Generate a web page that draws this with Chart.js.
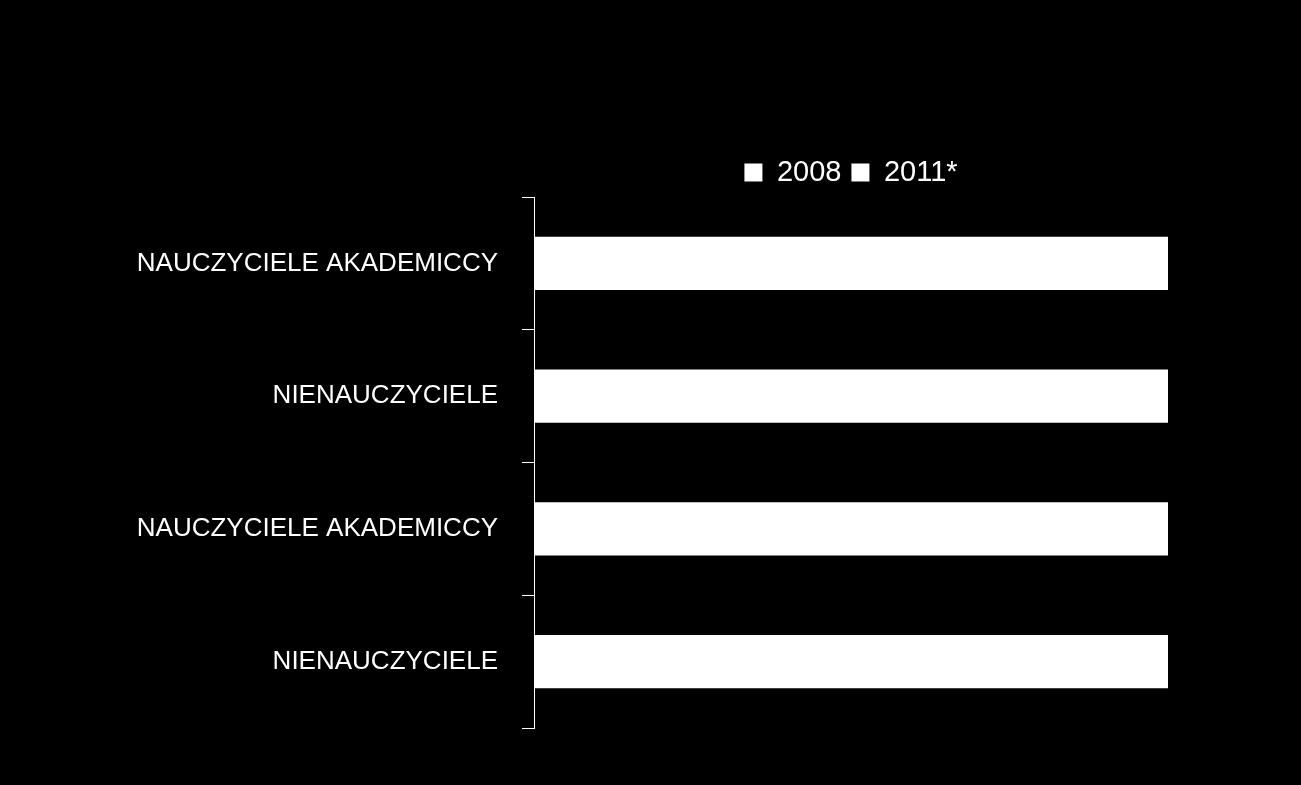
<!DOCTYPE html>
<html>
<head>
<meta charset="utf-8">
<script src="https://cdn.jsdelivr.net/npm/chart.js@4/dist/chart.umd.min.js"></script>
<style>
  html, body { margin: 0; padding: 0; background: #000; }
  #wrap { width: 1301px; height: 785px; }
</style>
</head>
<body>
<div id="wrap"><canvas id="chart"></canvas></div>
<script>
const categories = ['NAUCZYCIELE AKADEMICCY', 'NIENAUCZYCIELE', 'NAUCZYCIELE AKADEMICCY', 'NIENAUCZYCIELE'];
const values2008 = [100, 100, null, null];
const values2011 = [null, null, 100, 100];

const ctx = document.querySelector('#chart').getContext('2d');

new Chart(ctx, {
  type: 'bar',
  data: {
    labels: categories,
    datasets: [
      { label: '2008', data: values2008, backgroundColor: '#fff', barPercentage: 0.4, categoryPercentage: 1 },
      { label: '2011*', data: values2011, backgroundColor: '#fff', barPercentage: 0.4, categoryPercentage: 1 }
    ]
  },
  options: {
    indexAxis: 'y',
    responsive: true,
    maintainAspectRatio: false,
    animation: false,
    layout: { padding: { top: 148, right: 133, bottom: 57 } },
    plugins: {
      tooltip: { enabled: false },
      legend: {
        fullSize: false,
        labels: {
          color: '#fff',
          font: { family: 'Liberation Sans', size: 29 },
          boxWidth: 18,
          boxHeight: 18,
          padding: 10
        }
      }
    },
    scales: {
      x: {
        display: false,
        stacked: true,
        min: 0,
        max: 100
      },
      y: {
        stacked: true,
        afterFit: function(scale) { scale.width = 534; },
        border: { color: '#fff', width: 1 },
        grid: { display: true, drawOnChartArea: false, color: '#fff', tickLength: 12, offset: true },
        ticks: {
          color: '#fff',
          padding: 24,
          font: { family: 'Liberation Sans', size: 26 }
        }
      }
    }
  }
});
</script>
</body>
</html>
